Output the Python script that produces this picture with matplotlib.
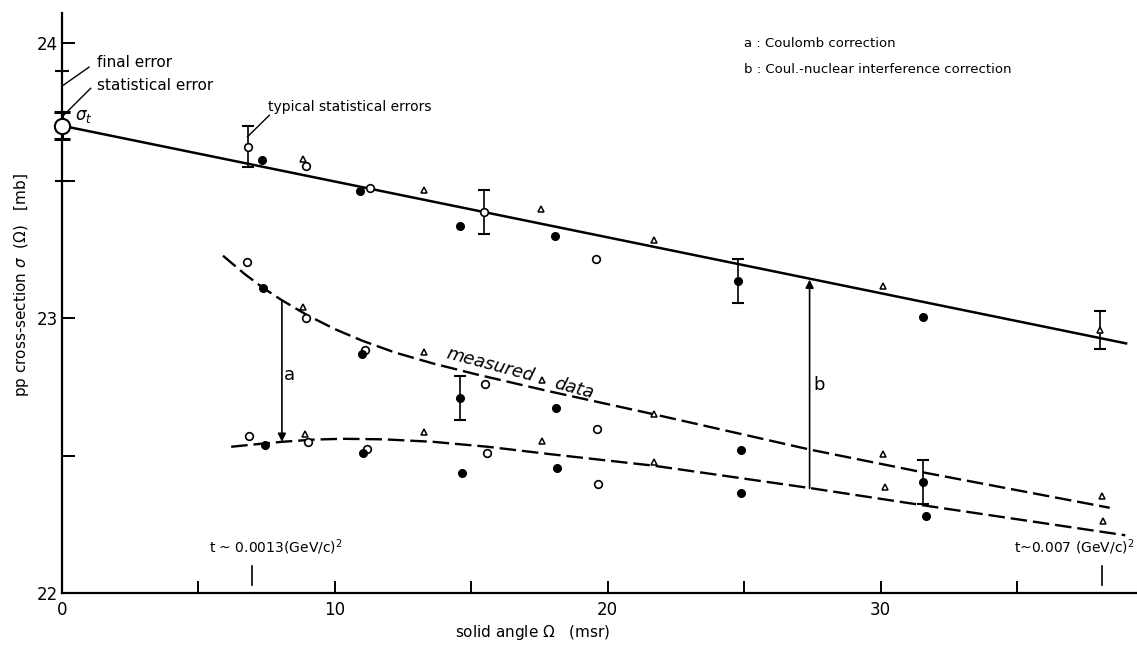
import matplotlib
matplotlib.use('Agg')
import matplotlib.pyplot as plt

# ---------------- data (solid angle [msr], cross-section [mb]) ----------------
# corrected for a and b (upper, solid-line fit)
cor_open_x = [6.8, 8.96, 11.28, 15.47, 19.56]
cor_open_y = [23.623, 23.553, 23.475, 23.387, 23.215]
cor_fill_x = [7.33, 10.92, 14.58, 18.06, 24.77, 31.56]
cor_fill_y = [23.577, 23.462, 23.335, 23.30, 23.135, 23.005]
cor_tri_x = [8.82, 13.27, 17.55, 21.7, 30.1, 38.06]
cor_tri_y = [23.58, 23.465, 23.396, 23.286, 23.117, 22.956]

# measured data
mea_open_x = [6.77, 8.96, 11.1, 15.5, 19.6]
mea_open_y = [23.203, 22.999, 22.884, 22.759, 22.596]
mea_fill_x = [7.37, 10.98, 14.58, 18.1, 24.87, 31.56]
mea_fill_y = [23.108, 22.869, 22.71, 22.672, 22.522, 22.403]
mea_tri_x = [8.85, 13.27, 17.6, 21.7, 30.1, 38.1]
mea_tri_y = [23.041, 22.875, 22.775, 22.651, 22.504, 22.353]

# Coulomb-corrected data (a)
cou_open_x = [6.84, 9.02, 11.17, 15.56, 19.65]
cou_open_y = [22.572, 22.55, 22.524, 22.508, 22.396]
cou_fill_x = [7.44, 11.03, 14.65, 18.13, 24.9, 31.66]
cou_fill_y = [22.538, 22.51, 22.437, 22.453, 22.363, 22.28]
cou_tri_x = [8.9, 13.27, 17.6, 21.7, 30.16, 38.15]
cou_tri_y = [22.58, 22.587, 22.554, 22.475, 22.387, 22.262]

# typical statistical error bars
err_x = [6.8, 15.47, 24.77, 38.06, 14.58, 31.56]
err_y = [23.623, 23.387, 23.135, 22.956, 22.71, 22.403]
err_e = [0.075, 0.08, 0.08, 0.07, 0.08, 0.08]

# fitted curves
fit_x = [0.0, 39.0]
fit_y = [23.70, 22.908]
meas_curve_x = [5.9, 6.7, 7.4, 8.06, 9.0, 10.0, 11.0, 12.2, 13.6, 15.2, 17.8, 21.7, 27.4, 31.5, 38.4]
meas_curve_y = [23.227, 23.16, 23.108, 23.065, 23.01, 22.96, 22.918, 22.875, 22.835, 22.795,
                22.735, 22.65, 22.522, 22.44, 22.31]
coul_curve_x = [6.2, 7.2, 8.06, 9.2, 10.3, 11.8, 13.6, 15.6, 17.9, 21.7, 27.4, 31.5, 38.97]
coul_curve_y = [22.532, 22.542, 22.55, 22.558, 22.561, 22.559, 22.55, 22.532, 22.505, 22.463,
                22.382, 22.32, 22.21]

# total cross section at zero
sigma_t = 23.70
stat_err = 0.05
final_err = 0.20

# t markers
t_mark_x = [6.95, 38.1]
t_labels = ['t ~ 0.0013(GeV/c)$^2$', 't~0.007 (GeV/c)$^2$']

x_ticks = [0, 10, 20, 30]
x_minor = [5, 15, 25, 35]
y_ticks = [22, 23, 24]
y_minor = [22.5, 23.5]

# ---------------- figure ----------------
plt.rcParams['font.family'] = ['DejaVu Sans']
W, H = 1137, 649
fig = plt.figure(figsize=(W / 100, H / 100), dpi=100)
ax = fig.add_axes([62 / W, 1 - 593 / H, (W - 62) / W, (593 - 13) / H])
ax.set_xlim(0, 39.4)
ax.set_ylim(22, 24.11)

for s in ['top', 'right']:
    ax.spines[s].set_visible(False)
for s in ['left', 'bottom']:
    ax.spines[s].set_linewidth(1.6)

ax.set_xticks(x_ticks)
ax.set_xticks(x_minor, minor=True)
ax.set_yticks(y_ticks)
ax.set_yticks(y_minor, minor=True)
ax.tick_params(which='both', direction='in', length=9, width=1.4, labelsize=12)
ax.tick_params(axis='x', pad=6)
ax.tick_params(axis='y', pad=3)

# lines
dash = (0, (7, 2.5))
ax.plot(fit_x, fit_y, color='black', lw=1.8, zorder=2, clip_on=False)
ax.plot(meas_curve_x, meas_curve_y, color='black', lw=1.7, ls=dash, zorder=2)
ax.plot(coul_curve_x, coul_curve_y, color='black', lw=1.7, ls=dash, zorder=2)

# error bars
ax.errorbar(err_x, err_y, yerr=err_e, fmt='none', ecolor='black', elinewidth=1.2,
            capsize=4, capthick=1.5, zorder=3)

# markers
ms = 5.5
for ox, oy in [(cor_open_x, cor_open_y), (mea_open_x, mea_open_y), (cou_open_x, cou_open_y)]:
    ax.plot(ox, oy, 'o', ms=ms, mfc='white', mec='black', mew=1.2, ls='none', zorder=4)
for fx, fy in [(cor_fill_x, cor_fill_y), (mea_fill_x, mea_fill_y), (cou_fill_x, cou_fill_y)]:
    ax.plot(fx, fy, 'o', ms=ms, mfc='black', mec='black', ls='none', zorder=4)
for tx, ty in [(cor_tri_x, cor_tri_y), (mea_tri_x, mea_tri_y), (cou_tri_x, cou_tri_y)]:
    ax.plot(tx, ty, '^', ms=5, mfc='white', mec='black', mew=1.1, ls='none', zorder=4)

# sigma_t with errors
ax.errorbar([0], [sigma_t], yerr=[final_err], fmt='none', ecolor='black', elinewidth=1.2,
            capsize=5, capthick=1.5, zorder=3, clip_on=False)
ax.errorbar([0], [sigma_t], yerr=[stat_err], fmt='none', ecolor='black', elinewidth=2.2,
            capsize=6, capthick=2.2, zorder=3, clip_on=False)
ax.plot([0], [sigma_t], 'o', ms=11, mfc='white', mec='black', mew=1.5, zorder=5, clip_on=False)

# annotations
ax.text(1.28, 23.931, 'final error', fontsize=11, va='center', ha='left')
ax.text(1.28, 23.847, 'statistical error', fontsize=11, va='center', ha='left')
ax.plot([0.99, 0.0], [23.913, 23.844], color='black', lw=1.0)
ax.plot([1.05, 0.0], [23.836, 23.732], color='black', lw=1.0)
ax.text(0.8, 23.735, r'$\sigma_t$', fontsize=12, va='center', ha='center')

ax.text(7.55, 23.767, 'typical statistical errors', fontsize=10, va='center', ha='left')
ax.plot([7.6, 6.8], [23.738, 23.66], color='black', lw=1.0)

ax.text(25.0, 24.0, 'a : Coulomb correction', fontsize=9.5, va='center', ha='left')
ax.text(25.0, 23.905, 'b : Coul.-nuclear interference correction', fontsize=9.5,
        va='center', ha='left')

ax.text(15.7, 22.83, 'measured', fontsize=13, style='italic', rotation=-15,
        rotation_mode='anchor', ha='center', va='center')
ax.text(18.75, 22.745, 'data', fontsize=13, style='italic', rotation=-15,
        rotation_mode='anchor', ha='center', va='center')

# arrows a and b
ax.annotate('', xy=(8.06, 22.55), xytext=(8.06, 23.065),
            arrowprops=dict(arrowstyle='-|>', color='black', lw=1.2, mutation_scale=12,
                            shrinkA=0, shrinkB=0))
ax.annotate('', xy=(27.4, 23.14), xytext=(27.4, 22.381),
            arrowprops=dict(arrowstyle='-|>', color='black', lw=1.2, mutation_scale=12,
                            shrinkA=0, shrinkB=0))
ax.text(8.35, 22.793, 'a', fontsize=13, va='center', ha='center')
ax.text(27.75, 22.756, 'b', fontsize=13, va='center', ha='center')

# t markers
for tx in t_mark_x:
    ax.plot([tx, tx], [22.03, 22.10], color='black', lw=1.2)
ax.text(t_mark_x[0] + 0.9, 22.165, t_labels[0], fontsize=10, ha='center', va='center')
ax.text(39.3, 22.165, t_labels[1], fontsize=10, ha='right', va='center')

# axis labels
fig.text(22 / W, 1 - 285 / H, r'pp cross-section $\sigma$  ($\Omega$)   [mb]', rotation=90,
         fontsize=11, ha='center', va='center')
fig.text(533 / W, 1 - 632 / H, r'solid angle $\Omega$   (msr)', fontsize=11,
         ha='center', va='center')

fig.savefig('out.png', dpi=100)
